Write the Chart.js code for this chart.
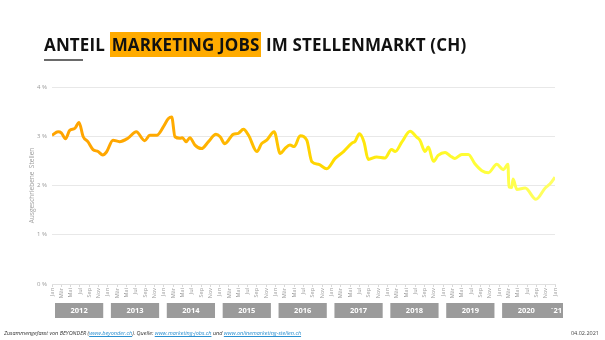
<!DOCTYPE html>
<html lang="de">
<head>
<meta charset="utf-8">
<script src="https://cdn.jsdelivr.net/npm/chart.js@4.4.1/dist/chart.umd.min.js"></script>
<style>
  html, body { margin: 0; padding: 0; background: #fff; }
  body { width: 605px; height: 340px; position: relative; overflow: hidden; font-family: "Open Sans", sans-serif; }
  #chartBox { position: absolute; left: 0; top: 0; width: 605px; height: 340px; }
  h1 {
    position: absolute; left: 44px; top: 33px; margin: 0;
    font-size: 17px; font-weight: 700; color: #111; white-space: nowrap; letter-spacing: 0.15px;
  }
  h1 span { background: #ffab00; padding: 1px 2px; }
  .rule { position: absolute; left: 44px; top: 59px; width: 39px; height: 2px; background: #6a6a6a; }
  .foot { position: absolute; left: 4px; top: 329px; font-size: 5.5px; color: #333; font-style: italic; white-space: nowrap; }
  .foot a { color: #2a8fd0; text-decoration: underline; }
  .date { position: absolute; right: 6px; top: 329px; font-size: 5.5px; color: #444; }
</style>
</head>
<body>
<div id="chartBox"><canvas id="shareChart"></canvas></div>
<h1>ANTEIL <span>MARKETING JOBS</span> IM STELLENMARKT (CH)</h1>
<div class="rule"></div>
<div class="foot">Zusammengefasst von BEYONDER (<a>www.beyonder.ch</a>). Quelle: <a>www.marketing-jobs.ch</a> und <a>www.onlinemarketing-stellen.ch</a></div>
<div class="date">04.02.2021</div>
<script>
// months since Jan 2012 and share of marketing jobs (%)
const monthPos = [0, 1.3, 2.0, 2.9, 3.8, 4.9, 5.8, 6.7, 7.7, 8.8, 9.9, 10.9, 11.7, 13.1, 14.5, 16.3, 18.1, 19.9, 21.0,
  22.5, 23.9, 25.0, 25.7, 26.4, 27.5, 28.0, 28.8, 29.6, 30.7, 32.1, 33.6, 35.2, 36.1, 37.1, 38.9, 40.0, 41.1, 42.2,
  44.0, 45.0, 46.1, 47.7, 49.0, 50.0, 51.1, 52.0, 53.3, 54.7, 55.8, 57.2, 59.0, 60.8, 62.6, 64.4, 65.1, 66.0, 67.0,
  67.9, 69.7, 71.5, 72.9, 73.7, 75.1, 76.9, 78.3, 79.0, 80.1, 80.8, 81.9, 82.9, 84.4, 85.5, 86.5, 88.0, 89.4, 90.8,
  92.3, 93.7, 95.5, 96.9, 97.9, 98.1, 98.7, 99.0, 99.8, 101.6, 103.9, 105.9, 106.9, 108];
const share = [3.02, 3.09, 3.07, 2.95, 3.12, 3.16, 3.28, 2.99, 2.89, 2.73, 2.69, 2.62, 2.68, 2.92, 2.89, 2.96, 3.09, 2.91, 3.02,
  3.02, 3.19, 3.36, 3.39, 2.99, 2.96, 2.97, 2.89, 2.97, 2.82, 2.75, 2.89, 3.04, 2.99, 2.85, 3.04, 3.06, 3.14, 3.02,
  2.69, 2.85, 2.92, 3.09, 2.65, 2.75, 2.82, 2.79, 3.01, 2.92, 2.48, 2.43, 2.34, 2.55, 2.69, 2.86, 2.90, 3.05, 2.88,
  2.53, 2.58, 2.56, 2.73, 2.69, 2.88, 3.10, 2.98, 2.92, 2.69, 2.78, 2.49, 2.61, 2.67, 2.60, 2.55, 2.63, 2.63, 2.44,
  2.30, 2.26, 2.43, 2.32, 2.43, 1.97, 1.96, 2.13, 1.92, 1.95, 1.72, 1.95, 2.03, 2.17];

const monthNames = ['Jan', 'Feb', 'Mär', 'Apr', 'Mai', 'Jun', 'Jul', 'Aug', 'Sep', 'Okt', 'Nov', 'Dez'];
const yearLabels = ['2012', '2013', '2014', '2015', '2016', '2017', '2018', '2019', '2020', '´21'];
const yTicks = [0, 1, 2, 3, 4];
const yTitle = 'Ausgeschriebene  Stellen';

// grey year boxes under the month labels
const yearBoxes = {
  id: 'yearBoxes',
  afterDraw(chart) {
    const { ctx, scales: { x }, chartArea } = chart;
    const top = chartArea.bottom + 19, h = 15;
    ctx.save();
    ctx.font = 'bold 7.5px "Open Sans", sans-serif';
    ctx.textAlign = 'center';
    ctx.textBaseline = 'middle';
    yearLabels.forEach((label, i) => {
      const first = i * 12;
      const last = Math.min(first + 11, x.max);
      let x0 = x.getPixelForValue(first) + 3;
      let x1 = x.getPixelForValue(last);
      if (last === first) { x0 = x.getPixelForValue(first) - 5; x1 = x0 + 13; }
      ctx.fillStyle = '#9b9b9b';
      ctx.fillRect(x0, top, x1 - x0, h);
      ctx.fillStyle = '#fff';
      ctx.fillText(label, (x0 + x1) / 2, top + h / 2 + 0.5);
    });
    ctx.restore();
  }
};

const lineGradient = (context) => {
  const { chart } = context;
  const area = chart.chartArea;
  if (!area) return '#ffa500';
  const g = chart.ctx.createLinearGradient(area.left, 0, area.right, 0);
  g.addColorStop(0, '#ffa300');
  g.addColorStop(0.25, '#ffab00');
  g.addColorStop(0.45, '#ffc400');
  g.addColorStop(0.56, '#ffdc00');
  g.addColorStop(0.7, '#fff41a');
  g.addColorStop(0.85, '#ffff3a');
  g.addColorStop(1, '#ffff66');
  return g;
};

new Chart(document.getElementById('shareChart'), {
  type: 'line',
  data: {
    datasets: [{
      data: monthPos.map((m, i) => ({ x: m, y: share[i] })),
      borderColor: lineGradient,
      borderWidth: 3,
      pointRadius: 0,
      cubicInterpolationMode: 'monotone',
      fill: false,
    }],
  },
  options: {
    responsive: true,
    maintainAspectRatio: false,
    animation: false,
    layout: { padding: { left: 28, right: 50, top: 87, bottom: 36 } },
    plugins: { legend: { display: false }, tooltip: { enabled: false } },
    scales: {
      x: {
        type: 'linear',
        min: 0,
        max: 108,
        afterFit: (s) => { s.height = 20; },
        afterBuildTicks: (s) => { s.ticks = []; for (let m = 0; m <= 108; m += 2) s.ticks.push({ value: m }); },
        ticks: {
          autoSkip: false,
          maxRotation: 90,
          minRotation: 90,
          padding: 1,
          color: '#9a9a9a',
          font: { size: 5.5, family: '"Open Sans", sans-serif' },
          callback: (v) => monthNames[v % 12],
        },
        grid: { drawOnChartArea: false, drawTicks: true, tickLength: 3, color: '#d8d8d8' },
        border: { display: true, color: '#e0e0e0' },
      },
      y: {
        min: 0,
        max: 4,
        afterFit: (s) => { s.width = 24; },
        afterBuildTicks: (s) => { s.ticks = yTicks.map((v) => ({ value: v })); },
        ticks: {
          padding: 5,
          color: '#9a9a9a',
          font: { size: 6, family: '"Open Sans", sans-serif' },
          callback: (v) => v + ' %',
        },
        grid: { color: '#e8e8e8', drawTicks: false },
        border: { display: false },
        title: {
          display: true,
          text: yTitle,
          color: '#a0a0a0',
          padding: 0,
          font: { size: 6.5, family: '"Open Sans", sans-serif' },
        },
      },
    },
  },
  plugins: [yearBoxes],
});
</script>
</body>
</html>
